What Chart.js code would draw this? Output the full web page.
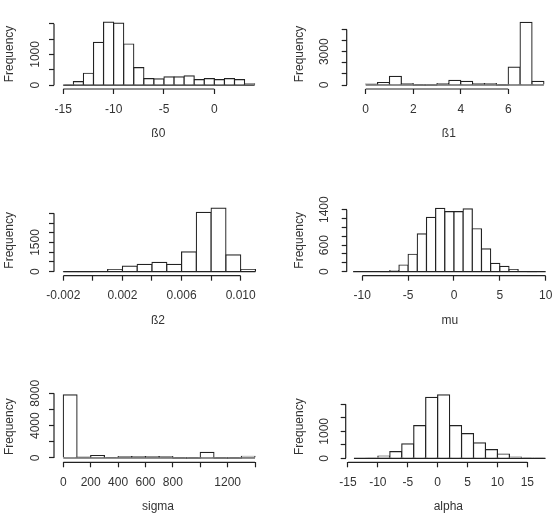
<!DOCTYPE html>
<html lang="en">
<head>
  <meta charset="UTF-8">
  <title>Posterior histograms</title>
  <script src="https://cdn.jsdelivr.net/npm/chart.js"></script>
  <style>
    body { margin: 0; background: #fff; }
    #wrap { position: relative; width: 558px; height: 525px; }
    .panel { position: absolute; width: 279px; height: 175px; }
  </style>
</head>
<body>
  <div id="wrap">
    <div class="panel" style="left:0;top:0"><canvas id="c1" width="279" height="175"></canvas></div>
    <div class="panel" style="left:279px;top:0"><canvas id="c2" width="279" height="175"></canvas></div>
    <div class="panel" style="left:0;top:175px"><canvas id="c3" width="279" height="175"></canvas></div>
    <div class="panel" style="left:279px;top:175px"><canvas id="c4" width="279" height="175"></canvas></div>
    <div class="panel" style="left:0;top:350px"><canvas id="c5" width="279" height="175"></canvas></div>
    <div class="panel" style="left:279px;top:350px"><canvas id="c6" width="279" height="175"></canvas></div>
  </div>

  <script>
    // ß0
    const b0Breaks = [-15, -14, -13, -12, -11, -10, -9, -8, -7, -6, -5, -4, -3, -2, -1, 0, 1, 2, 3, 4];
    const b0Counts = [10, 119, 389, 1395, 2054, 2022, 1340, 573, 216, 205, 270, 270, 303, 184, 216, 184, 216, 184, 43];
    const b0XTicks = [-15, -10, -5, 0];
    const b0XLabels = ['-15', '-10', '-5', '0'];
    const b0YTicks = [0, 500, 1000, 1500, 2000];
    const b0YLabels = ['0', '', '1000', '', ''];

    // ß1
    const b1Breaks = [0, 0.5, 1, 1.5, 2, 2.5, 3, 3.5, 4, 4.5, 5, 5.5, 6, 6.5, 7, 7.5];
    const b1Counts = [90, 208, 774, 119, 8, 4, 119, 417, 327, 119, 119, 20, 1607, 5650, 327];
    const b1XTicks = [0, 2, 4, 6];
    const b1XLabels = ['0', '2', '4', '6'];
    const b1YTicks = [0, 1000, 2000, 3000, 4000, 5000];
    const b1YLabels = ['0', '', '', '3000', '', ''];

    // ß2
    const b2Breaks = [-0.002, -0.001, 0, 0.001, 0.002, 0.003, 0.004, 0.005, 0.006, 0.007, 0.008, 0.009, 0.010, 0.011];
    const b2Counts = [2, 4, 12, 103, 291, 377, 479, 377, 1015, 3050, 3270, 862, 110];
    const b2XTicks = [-0.002, 0, 0.002, 0.004, 0.006, 0.008, 0.010];
    const b2XLabels = ['-0.002', '', '0.002', '', '0.006', '', '0.010'];
    const b2YTicks = [0, 500, 1000, 1500, 2000, 2500, 3000];
    const b2YLabels = ['0', '', '', '1500', '', '', ''];

    // mu
    const muBreaks = [-11, -10, -9, -8, -7, -6, -5, -4, -3, -2, -1, 0, 1, 2, 3, 4, 5, 6, 7, 8, 9, 10];
    const muCounts = [0, 0, 0, 2, 23, 152, 394, 856, 1227, 1432, 1356, 1356, 1417, 970, 515, 189, 121, 45, 5, 1, 0];
    const muXTicks = [-10, -5, 0, 5, 10];
    const muXLabels = ['-10', '-5', '0', '5', '10'];
    const muYTicks = [0, 200, 400, 600, 800, 1000, 1200, 1400];
    const muYLabels = ['0', '', '', '600', '', '', '', '1400'];

    // sigma
    const sigmaBreaks = [0, 100, 200, 300, 400, 500, 600, 700, 800, 900, 1000, 1100, 1200, 1300, 1400];
    const sigmaCounts = [7795, 123, 287, 60, 164, 164, 164, 164, 8, 8, 697, 6, 8, 205];
    const sigmaXTicks = [0, 200, 400, 600, 800, 1000, 1200, 1400];
    const sigmaXLabels = ['0', '200', '400', '600', '800', '', '1200', ''];
    const sigmaYTicks = [0, 2000, 4000, 6000, 8000];
    const sigmaYLabels = ['0', '', '4000', '', '8000'];

    // alpha
    const alphaBreaks = [-14, -12, -10, -8, -6, -4, -2, 0, 2, 4, 6, 8, 10, 12, 14, 16, 18];
    const alphaCounts = [0, 5, 86, 247, 531, 1210, 2259, 2346, 1210, 914, 568, 321, 160, 49, 12, 3];
    const alphaXTicks = [-15, -10, -5, 0, 5, 10, 15];
    const alphaXLabels = ['-15', '-10', '-5', '0', '5', '10', '15'];
    const alphaYTicks = [0, 500, 1000, 1500, 2000];
    const alphaYLabels = ['0', '', '1000', '', ''];

    const W = 279, H = 175;
    const INK = '#222';
    const TXT = '#333';
    const FONT = '"Liberation Sans", Arial, sans-serif';

    Chart.defaults.font.family = FONT;
    Chart.defaults.font.size = 12;
    Chart.defaults.color = TXT;

    function hist(id, name, breaks, counts, xTicks, xLabels, yTicks, yLabels, g) {
      const points = counts.map((c, i) => ({ x: (breaks[i] + breaks[i + 1]) / 2, y: c }));

      // R-style axes: lines only between first and last tick, y labels parallel to the axis
      const rAxes = {
        id: 'rAxes',
        afterDatasetsDraw(chart) {
          const { ctx, chartArea: a, scales: { x, y } } = chart;
          ctx.save();
          ctx.strokeStyle = INK;
          ctx.lineWidth = 1.2;
          ctx.beginPath();
          const y0 = y.getPixelForValue(0);
          ctx.moveTo(x.getPixelForValue(breaks[0]), y0);
          ctx.lineTo(x.getPixelForValue(breaks[breaks.length - 1]), y0);
          ctx.moveTo(x.getPixelForValue(xTicks[0]), a.bottom);
          ctx.lineTo(x.getPixelForValue(xTicks[xTicks.length - 1]), a.bottom);
          ctx.moveTo(a.left, y.getPixelForValue(yTicks[0]));
          ctx.lineTo(a.left, y.getPixelForValue(yTicks[yTicks.length - 1]));
          ctx.stroke();

          ctx.fillStyle = TXT;
          ctx.font = '12px ' + FONT;
          ctx.textAlign = 'center';
          ctx.textBaseline = 'middle';
          yTicks.forEach((v, i) => {
            if (!yLabels[i]) return;
            ctx.save();
            ctx.translate(g.yLabelX, y.getPixelForValue(v));
            ctx.rotate(-Math.PI / 2);
            ctx.fillText(yLabels[i], 0, 0);
            ctx.restore();
          });
          ctx.restore();
        }
      };

      const tickGrid = { offset: false, drawOnChartArea: false, drawTicks: true, tickLength: 5, tickWidth: 1.2, tickColor: INK, color: INK };

      new Chart(document.getElementById(id), {
        type: 'bar',
        data: {
          datasets: [{
            data: points,
            backgroundColor: '#fff',
            borderColor: INK,
            borderWidth: 1.2,
            inflateAmount: 0.6,
            barPercentage: 1,
            categoryPercentage: 1
          }]
        },
        options: {
          responsive: false,
          animation: false,
          events: [],
          layout: { padding: { top: g.top, right: W - g.right, left: 0, bottom: 0 } },
          plugins: { legend: { display: false }, tooltip: { enabled: false } },
          scales: {
            x: {
              type: 'linear',
              offset: false,
              min: g.xlim[0],
              max: g.xlim[1],
              afterBuildTicks: s => { s.ticks = xTicks.map(v => ({ value: v })); },
              afterFit: s => { s.height = H - g.bottom; s.paddingLeft = 0; s.paddingRight = 0; },
              grid: tickGrid,
              border: { display: false },
              ticks: { autoSkip: false, maxRotation: 0, minRotation: 0, padding: 8, color: TXT, callback: (v, i) => xLabels[i] },
              title: { display: true, text: name, color: TXT, padding: { top: 0, bottom: g.titlePad } }
            },
            y: {
              offset: false,
              min: g.ylim[0],
              max: g.ylim[1],
              afterBuildTicks: s => { s.ticks = yTicks.map(v => ({ value: v })); },
              afterFit: s => { s.width = g.left; s.paddingTop = 0; s.paddingBottom = 0; },
              grid: tickGrid,
              border: { display: false },
              ticks: { display: false },
              title: { display: true, text: 'Frequency', color: TXT, padding: { top: g.freqPad, bottom: 0 } }
            }
          }
        },
        plugins: [rAxes]
      });
    }

    hist('c1', 'ß0', b0Breaks, b0Counts, b0XTicks, b0XLabels, b0YTicks, b0YLabels,
      { left: 54, top: 19, right: 262.7, bottom: 89, xlim: [-15.92, 4.8], ylim: [-124, 2153], yLabelX: 35.5, freqPad: 2.8, titlePad: 34.5 });
    hist('c2', 'ß1', b1Breaks, b1Counts, b1XTicks, b1XLabels, b1YTicks, b1YLabels,
      { left: 67.7, top: 19, right: 272, bottom: 89, xlim: [-0.8, 7.8], ylim: [-360, 5946], yLabelX: 45.5, freqPad: 13.8, titlePad: 34.5 });
    hist('c3', 'ß2', b2Breaks, b2Counts, b2XTicks, b2XLabels, b2YTicks, b2YLabels,
      { left: 54, top: 30, right: 262, bottom: 100.7, xlim: [-0.002629, 0.011441], ylim: [-205, 3426], yLabelX: 35.5, freqPad: 2.8, titlePad: 22.1 });
    hist('c4', 'mu', muBreaks, muCounts, muXTicks, muXLabels, muYTicks, muYLabels,
      { left: 67.7, top: 30, right: 274, bottom: 100.7, xlim: [-11.7, 10.8], ylim: [-90, 1506], yLabelX: 45.5, freqPad: 13.8, titlePad: 22.1 });
    hist('c5', 'sigma', sigmaBreaks, sigmaCounts, sigmaXTicks, sigmaXLabels, sigmaYTicks, sigmaYLabels,
      { left: 54, top: 41, right: 262, bottom: 112.3, xlim: [-68, 1451], ylim: [-532, 8284], yLabelX: 35.5, freqPad: 2.8, titlePad: 11.1 });
    hist('c6', 'alpha', alphaBreaks, alphaCounts, alphaXTicks, alphaXLabels, alphaYTicks, alphaYLabels,
      { left: 66.7, top: 41, right: 272, bottom: 112.3, xlim: [-15.38, 18.96], ylim: [-148, 2493], yLabelX: 45.5, freqPad: 13.8, titlePad: 11.1 });
  </script>
</body>
</html>
